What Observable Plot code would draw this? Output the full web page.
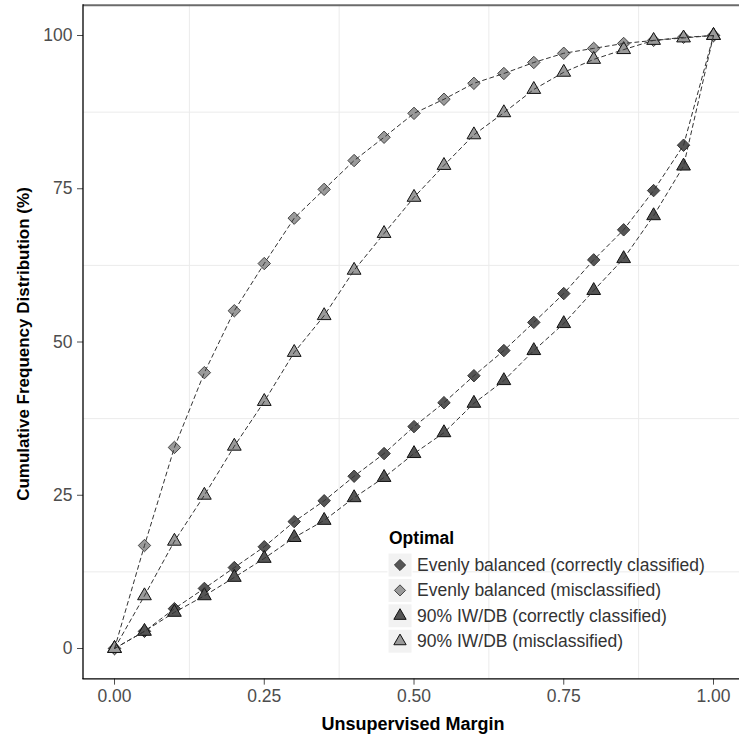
<!DOCTYPE html>
<html><head><meta charset="utf-8">
<script src="https://cdn.jsdelivr.net/npm/d3@7"></script>
<script src="https://cdn.jsdelivr.net/npm/@observablehq/plot@0.6"></script>
<style>body{margin:0;background:#fff}#chart{width:739px;height:742px}</style>
</head><body><div id="chart"></div>
<script>
const margins = [0, 0.05, 0.10, 0.15, 0.20, 0.25, 0.30, 0.35, 0.40, 0.45, 0.50, 0.55, 0.60, 0.65, 0.70, 0.75, 0.80, 0.85, 0.90, 0.95, 1.00];
const seriesNames = ["Evenly balanced (correctly classified)", "Evenly balanced (misclassified)", "90% IW/DB (correctly classified)", "90% IW/DB (misclassified)"];
const evenCorrect = [0, 2.8, 6.5, 9.8, 13.2, 16.6, 20.7, 24.1, 28.1, 31.8, 36.2, 40.1, 44.5, 48.6, 53.2, 57.9, 63.4, 68.3, 74.7, 82.1, 100];
const evenMis = [0, 16.8, 32.8, 45.0, 55.1, 62.8, 70.2, 74.9, 79.6, 83.4, 87.3, 89.6, 92.2, 93.8, 95.6, 97.1, 97.9, 98.7, 99.2, 99.7, 100];
const iwCorrect = [0, 2.8, 5.9, 8.6, 11.6, 14.7, 18.1, 20.9, 24.6, 27.9, 31.8, 35.2, 40.0, 43.7, 48.6, 53.0, 58.4, 63.6, 70.6, 78.7, 100];
const iwMis = [0, 8.6, 17.5, 25.0, 33.0, 40.3, 48.3, 54.3, 61.7, 67.7, 73.6, 78.8, 83.8, 87.4, 91.2, 94.0, 96.1, 97.7, 99.2, 99.6, 100];
const xTicks = [0, 0.25, 0.5, 0.75, 1];
const yTicks = [0, 25, 50, 75, 100];
const xMinor = [0.125, 0.375, 0.625, 0.875];
const yMinor = [12.5, 37.5, 62.5, 87.5];

const seriesValues = [evenCorrect, evenMis, iwCorrect, iwMis];
const symbols = ["diamond2", "diamond2", "triangle", "triangle"];
const radii = [5.6, 5.6, 5.1, 5.1];
const fills = ["#555555", "#9a9a9a", "#555555", "#9a9a9a"];
const strokes = ["#333333", "#444444", "#111111", "#111111"];

const tables = seriesValues.map((vals, k) => margins.map((m, i) => ({m, v: vals[i], s: seriesNames[k]})));

const FONT = "Liberation Sans, Arial, sans-serif";
const marks = [
  Plot.ruleX(xMinor, {stroke: "#ebebeb", strokeWidth: 1}),
  Plot.ruleY(yMinor, {stroke: "#ebebeb", strokeWidth: 1}),
  Plot.axisX({ticks: xTicks, tickFormat: d3.format(".2f"), tickSize: 6, tickPadding: 4, fontSize: 17.5, label: null}),
  Plot.axisY({ticks: yTicks, tickSize: 6, tickPadding: 5, fontSize: 17.5, label: null})
];
tables.forEach((t, k) => {
  marks.push(Plot.dot(t, {x: "m", y: "v", symbol: symbols[k], r: radii[k], fill: fills[k], stroke: strokes[k], strokeWidth: 1}));
});
tables.forEach((t, k) => {
  marks.push(Plot.line(t, {x: "m", y: "v", stroke: "#333", strokeWidth: 1, strokeDasharray: "4,3.5"}));
});

const plot = Plot.plot({
  width: 739, height: 742,
  marginLeft: 83, marginRight: 0, marginTop: 4.35, marginBottom: 63.35,
  x: {domain: [-0.0518, 1.0434]},
  y: {domain: [-5, 105]},
  style: {fontFamily: FONT, color: "#4d4d4d", background: "#fff", overflow: "visible"},
  marks
});
document.getElementById("chart").appendChild(plot);

const svg = d3.select(plot);
// panel borders
svg.append("line").attr("x1", 83).attr("x2", 739).attr("y1", 5.3).attr("y2", 5.3).attr("stroke", "#6b6b6b").attr("stroke-width", 2);
svg.append("line").attr("x1", 83).attr("x2", 83).attr("y1", 4.3).attr("y2", 679).attr("stroke", "#000").attr("stroke-width", 1.3);
svg.append("line").attr("x1", 82.4).attr("x2", 739).attr("y1", 678.8).attr("y2", 678.8).attr("stroke", "#000").attr("stroke-width", 1.3);

// axis titles
svg.append("text").attr("x", 413).attr("y", 730).attr("text-anchor", "middle")
  .attr("font-family", FONT).attr("font-weight", "bold").attr("font-size", 18).attr("fill", "#000")
  .text("Unsupervised Margin");
svg.append("text").attr("transform", "translate(29,344) rotate(-90)").attr("text-anchor", "middle")
  .attr("font-family", FONT).attr("font-weight", "bold").attr("font-size", 17).attr("fill", "#000")
  .text("Cumulative Frequency Distribution (%)");

// legend
const lg = svg.append("g").attr("font-family", FONT).attr("text-anchor", "start");
lg.append("text").attr("x", 389).attr("y", 544).attr("font-weight", "bold").attr("font-size", 17.5).attr("fill", "#000").text("Optimal");
const d3sym = {diamond2: d3.symbolDiamond2, triangle: d3.symbolTriangle};
seriesNames.forEach((name, k) => {
  const cy = 565 + k * 25.4;
  lg.append("rect").attr("x", 388).attr("y", cy - 12).attr("width", 24).attr("height", 24).attr("fill", "#f2f2f2").attr("stroke", "#fff").attr("stroke-width", 1);
  lg.append("path").attr("transform", `translate(400,${cy})`)
    .attr("d", d3.symbol(d3sym[symbols[k]], radii[k] * radii[k] * Math.PI * 0.8)())
    .attr("fill", fills[k]).attr("stroke", strokes[k]).attr("stroke-width", 1);
  lg.append("text").attr("x", 417).attr("y", cy + 6).attr("font-size", 17.5).attr("fill", "#333").text(name);
});
</script></body></html>
